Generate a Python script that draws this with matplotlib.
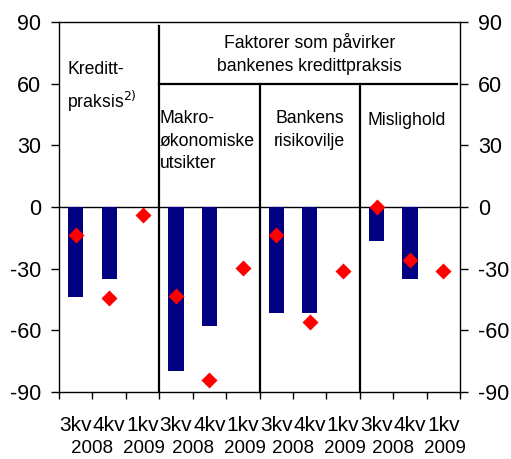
import matplotlib
matplotlib.use('Agg')
import matplotlib.pyplot as plt
import numpy as np

plt.rcParams['font.family'] = ['Liberation Sans Narrow', 'Liberation Sans', 'DejaVu Sans']

# quarters repeated for every group
quarters = ['3kv', '4kv', '1kv']
years = ['2008', '2008', '2009']
groups = ['Kreditt-\npraksis$^{2)}$', 'Makro-\nøkonomiske\nutsikter', 'Bankens\nrisikovilje', 'Mislighold']

# bars: 3kv 2008 and 4kv 2008 (none for 1kv 2009)
bar_vals = [[-44, -35], [-80, -58], [-51.5, -51.5], [-16.5, -35]]
# diamonds: all three quarters
dia_vals = [[-13.5, -44.5, -4], [-43.5, -84.3, -29.5], [-13.5, -55.8, -31], [0, -26, -31]]

header = 'Faktorer som påvirker\nbankenes kredittpraksis'

fig = plt.figure(figsize=(5.11, 4.59), dpi=100)
ax = fig.add_axes([0.1155, 0.146, 0.785, 0.806])

n = len(quarters)
for g in range(len(groups)):
    x0 = g * n
    xb = np.arange(len(bar_vals[g])) + x0
    ax.bar(xb, bar_vals[g], width=0.45, color='#000080', zorder=2)
    xd = np.arange(len(dia_vals[g])) + x0
    ax.plot(xd, dia_vals[g], 'D', color='#ff0000', ms=8.5, mec='none', zorder=3)

total = n * len(groups)
ax.set_xlim(-0.5, total - 0.5)
ax.set_ylim(-90, 90)
ax.set_yticks(np.arange(-90, 91, 30))
ax.set_yticklabels([str(v) for v in range(-90, 91, 30)])
ax.tick_params(axis='y', which='both', left=True, right=True, labelleft=True, labelright=True,
               labelsize=15.5, length=6, width=1, direction='out', pad=7)
ax.set_xticks(np.arange(-0.5, total, 1))
ax.set_xticklabels([])
ax.tick_params(axis='x', length=5, width=1, direction='out')
for sp in ax.spines.values():
    sp.set_linewidth(1)

ax.axhline(0, color='black', lw=1, zorder=1)

# separators
ax.plot([n - 0.5, n - 0.5], [-90, 88], color='black', lw=1.6, zorder=4)
ax.plot([n - 0.5, total - 0.6], [60, 60], color='black', lw=1.6, zorder=4)
for g in range(2, len(groups)):
    xs = g * n - 0.5
    ax.plot([xs, xs], [-90, 60], color='black', lw=1.6, zorder=4)

# category labels
for i in range(total):
    q = i % n
    ax.text(i, -101.5, quarters[q], ha='center', va='top', fontsize=15)
    if q == 0:
        ax.text(i + 0.5, -113.5, years[q], ha='center', va='top', fontsize=13.5)
    elif q == 2:
        ax.text(i + 0.05, -113.5, years[q], ha='center', va='top', fontsize=13.5)

# group labels
fs = 12.7
ax.text(-0.25, 71, groups[0], ha='left', va='top', fontsize=fs, linespacing=1.55)
ax.text(2.5 + 0.02, 47, groups[1], ha='left', va='top', fontsize=fs, linespacing=1.4)
ax.text(7, 47, groups[2], ha='center', va='top', fontsize=fs, linespacing=1.4)
ax.text(8.72, 46, groups[3], ha='left', va='top', fontsize=fs)
ax.text((n - 0.5 + total - 0.5) / 2, 84.5, header, ha='center', va='top', fontsize=fs, linespacing=1.4)

fig.savefig('out.png', dpi=100)
